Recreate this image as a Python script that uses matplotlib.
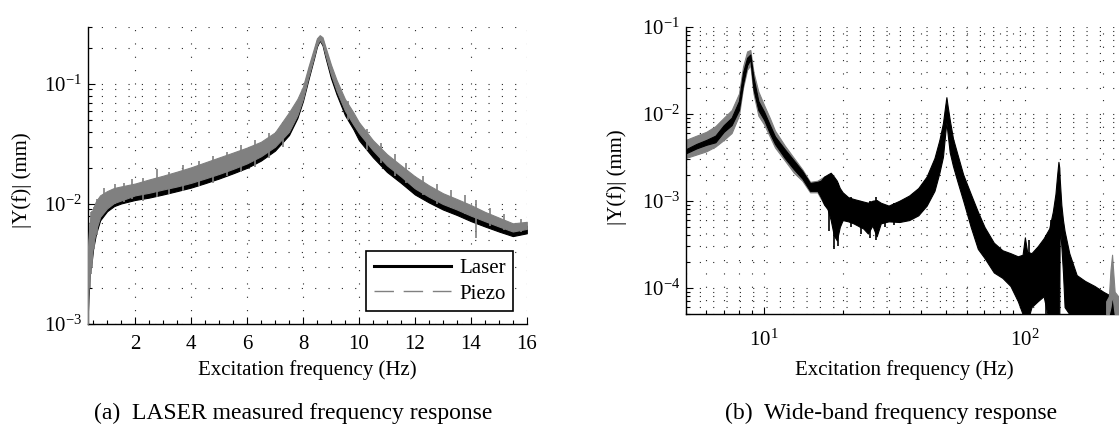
import matplotlib
matplotlib.use('Agg')
import matplotlib.pyplot as plt
from matplotlib.ticker import LogLocator, MultipleLocator, NullFormatter
from matplotlib.lines import Line2D

# (a) low band, LASER vs piezo, noise band read as lower / upper envelope (mm)
freq_a = [0.30, 0.33, 0.36, 0.40, 0.45, 0.50, 0.60, 0.75, 1.0, 1.25, 1.5, 2.0, 2.5, 3.0, 3.5,
          4.0, 4.5, 5.0, 5.5, 6.0, 6.5, 7.0, 7.5, 7.8, 8.0, 8.2, 8.4, 8.5, 8.6, 8.7, 8.8, 9.0,
          9.2, 9.5, 9.8, 10.0, 10.5, 11.0, 11.5, 12.0, 12.5, 13.0, 13.5, 14.0, 14.5, 15.0, 15.5, 16.0]
laser_lo = [0.0010, 0.0016, 0.0022, 0.0028, 0.0033, 0.0042, 0.0056, 0.0073, 0.0087, 0.0096, 0.0101,
            0.0108, 0.0113, 0.0120, 0.0128, 0.0137, 0.0149, 0.0163, 0.0180, 0.0200, 0.0230, 0.0278,
            0.0375, 0.052, 0.072, 0.110, 0.165, 0.205, 0.230, 0.210, 0.168, 0.112, 0.082, 0.055,
            0.042, 0.034, 0.0245, 0.0185, 0.0150, 0.0120, 0.0103, 0.0090, 0.0081, 0.0072, 0.0065,
            0.0059, 0.0054, 0.0057]
laser_hi = [0.0030, 0.0042, 0.0052, 0.0064, 0.0074, 0.0082, 0.0095, 0.0108, 0.0118, 0.0126, 0.0130,
            0.0135, 0.0146, 0.0157, 0.0170, 0.0185, 0.0203, 0.0224, 0.0246, 0.0270, 0.0302, 0.0355,
            0.0510, 0.068, 0.088, 0.132, 0.190, 0.232, 0.248, 0.235, 0.195, 0.135, 0.098, 0.067,
            0.052, 0.043, 0.030, 0.023, 0.0185, 0.0150, 0.0127, 0.0110, 0.0099, 0.0088, 0.0078,
            0.0070, 0.0063, 0.0066]
piezo_lo = [0.0010, 0.0018, 0.0025, 0.0030, 0.0035, 0.0045, 0.0060, 0.0078, 0.0092, 0.0102, 0.0107,
            0.0118, 0.0124, 0.0132, 0.0140, 0.0150, 0.0163, 0.0178, 0.0196, 0.0218, 0.0250, 0.0300,
            0.0400, 0.055, 0.075, 0.115, 0.170, 0.210, 0.235, 0.215, 0.175, 0.120, 0.088, 0.060,
            0.046, 0.039, 0.028, 0.021, 0.017, 0.0135, 0.0115, 0.0100, 0.0090, 0.0080, 0.0072,
            0.0065, 0.0059, 0.0062]
piezo_hi = [0.0035, 0.0050, 0.0062, 0.0075, 0.0085, 0.0092, 0.0105, 0.0118, 0.0128, 0.0136, 0.0140,
            0.0148, 0.0160, 0.0172, 0.0186, 0.0202, 0.0222, 0.0244, 0.0268, 0.0295, 0.0330, 0.0395,
            0.0580, 0.075, 0.095, 0.140, 0.200, 0.240, 0.255, 0.245, 0.205, 0.145, 0.108, 0.075,
            0.058, 0.048, 0.034, 0.026, 0.021, 0.0170, 0.0143, 0.0123, 0.0110, 0.0098, 0.0086,
            0.0077, 0.0069, 0.0071]
# single noisy excursions of the piezo trace
piezo_spk_f = [0.32, 0.38, 0.42, 0.47, 0.55, 0.65, 0.9, 1.3, 1.6, 1.9, 2.3, 2.8, 3.2, 3.7, 4.3,
               4.8, 5.3, 5.8, 6.3, 6.8, 7.3, 9.6, 10.3, 10.8, 11.3, 11.7, 12.3, 12.8, 13.3, 13.8,
               14.2, 14.7, 15.2, 15.8]
piezo_spk_lo = [0.0011, 0.0020, 0.0026, 0.0030, 0.0042, 0.0055, 0.0085, 0.0100, 0.0104, 0.0110,
                0.0105, 0.0115, 0.0120, 0.0128, 0.0140, 0.0150, 0.0170, 0.0185, 0.0205, 0.0240,
                0.0300, 0.050, 0.028, 0.022, 0.017, 0.015, 0.0118, 0.0100, 0.0092, 0.0082,
                0.0052, 0.0066, 0.0061, 0.0058]
piezo_spk_hi = [0.0045, 0.0070, 0.0085, 0.0088, 0.0095, 0.0110, 0.0135, 0.0148, 0.0150, 0.0160,
                0.0165, 0.0195, 0.0185, 0.0210, 0.0230, 0.0250, 0.0270, 0.0310, 0.0340, 0.0390,
                0.0480, 0.072, 0.042, 0.032, 0.026, 0.022, 0.0170, 0.0148, 0.0130, 0.0118,
                0.0108, 0.0092, 0.0082, 0.0075]

# (b) wide band
freq_b = [5.0, 5.5, 6.0, 6.5, 7.0, 7.5, 8.0, 8.3, 8.6, 8.85, 9.1, 9.5, 10, 10.5, 11, 12, 13, 14, 15,
          16, 16.5, 17, 17.5, 18, 18.5, 19, 19.5, 20, 21, 22, 24, 25, 26, 27, 28, 30, 33, 36, 39, 42,
          45, 47, 48.5, 49.5, 50, 50.5, 51.5, 53, 55, 58, 62, 66, 70, 76, 82, 88, 94, 98, 100, 102,
          106, 112, 118, 124, 128, 131, 133, 134.5, 135.5, 136, 138, 140, 142, 148, 158, 170, 185,
          200, 215, 240]
wide_lo = [0.0035, 0.0040, 0.0044, 0.0047, 0.0062, 0.0074, 0.0110, 0.022, 0.036, 0.042, 0.019,
           0.011, 0.0085, 0.0060, 0.0045, 0.0031, 0.0023, 0.0018, 0.0013, 0.0013, 0.0011, 0.0009,
           0.0008, 0.0006, 0.0004, 0.00035, 0.0005, 0.0006, 0.00058, 0.00055, 0.00048, 0.00042,
           0.00052, 0.00039, 0.00055, 0.00058, 0.00057, 0.0006, 0.00068, 0.00088, 0.0013, 0.0021,
           0.0032, 0.0060, 0.0080, 0.0060, 0.0036, 0.0025, 0.0017, 0.0010, 0.0005, 0.00028,
           0.00022, 0.00015, 0.00013, 0.000105, 0.00007, 0.00005, 0.00004, 0.00004, 0.00006,
           0.00007, 0.00008, 0.00004, 0.00004, 0.00004, 0.00004, 0.00004, 0.00004, 0.00055,
           0.0003, 0.00015, 0.00006, 0.00005, 0.00005, 0.00005, 0.00005, 0.00004, 0.00004, 0.00004]
wide_hi = [0.0039, 0.0045, 0.0050, 0.0056, 0.0074, 0.0090, 0.0140, 0.030, 0.044, 0.048, 0.026,
           0.014, 0.0105, 0.0075, 0.0055, 0.0039, 0.0029, 0.0022, 0.0016, 0.00165, 0.0017, 0.0019,
           0.0020, 0.0021, 0.0019, 0.0017, 0.0014, 0.00125, 0.0011, 0.00105, 0.00098, 0.00095,
           0.0010, 0.00102, 0.00095, 0.00088, 0.0010, 0.00115, 0.0014, 0.0019, 0.0031, 0.0050,
           0.0078, 0.0125, 0.0155, 0.0125, 0.0085, 0.0052, 0.0035, 0.0020, 0.0012, 0.00075,
           0.0005, 0.00033, 0.00027, 0.00025, 0.00023, 0.00024, 0.00038, 0.00026, 0.00025,
           0.0003, 0.00037, 0.00048, 0.00075, 0.0012, 0.0020, 0.0028, 0.0024, 0.0018, 0.0009,
           0.0006, 0.00045, 0.00025, 0.00014, 0.00012, 0.000105, 0.00009, 0.00008, 0.00007]
wide_spk_f = [17.8, 18.6, 19.2, 21.5, 23.5, 25.5, 26.8, 29.0, 31.5, 104, 121, 126]
wide_spk_lo = [0.00045, 0.00028, 0.00030, 0.00050, 0.00042, 0.00037, 0.00035, 0.00050, 0.00052,
               0.00004, 0.00004, 0.00004]
wide_spk_hi = [0.0020, 0.0018, 0.0016, 0.0011, 0.00098, 0.0010, 0.0011, 0.0009, 0.00095,
               0.00035, 0.0004, 0.0006]
gray_f = [5.0, 5.5, 6.0, 6.5, 7.0, 7.5, 8.0, 8.3, 8.6, 8.85, 9.1, 9.5, 10, 10.5, 11, 12, 13, 14, 15, 16, 17]
gray_lo = [0.0031, 0.0034, 0.0037, 0.0042, 0.0050, 0.0060, 0.0095, 0.020, 0.032, 0.036, 0.017,
           0.0095, 0.0075, 0.0055, 0.0041, 0.0029, 0.0021, 0.0017, 0.00125, 0.00125, 0.0009]
gray_hi = [0.0050, 0.0056, 0.0062, 0.0072, 0.0090, 0.0110, 0.0170, 0.035, 0.052, 0.054, 0.030,
           0.018, 0.0125, 0.0090, 0.0064, 0.0043, 0.0031, 0.0023, 0.00165, 0.0017, 0.0019]
spike_f = [205, 210, 213, 216, 218, 221, 228, 240]
spike_lo = [0.00005, 0.00005, 0.00006, 0.00008, 0.00007, 0.00005, 0.00005, 0.00005]
spike_hi = [0.00007, 0.00008, 0.00016, 0.00024, 0.00016, 0.00009, 0.00008, 0.00008]

plt.rcParams['font.family'] = ['Liberation Serif', 'DejaVu Serif']
plt.rcParams['font.size'] = 15
plt.rcParams['mathtext.fontset'] = 'custom'
plt.rcParams['mathtext.rm'] = 'Liberation Serif'
plt.rcParams['mathtext.it'] = 'Liberation Serif:italic'
plt.rcParams['mathtext.default'] = 'regular'

W, H = 1119, 425
fig = plt.figure(figsize=(W / 100, H / 100), dpi=100)
ax1 = fig.add_axes([87.5 / W, 1 - 324 / H, 439.3 / W, 297.3 / H])
ax2 = fig.add_axes([685.7 / W, 1 - 314 / H, 438.3 / W, 287.3 / H])

dots = dict(color='0.15', linestyle=(0, (1, 11)), linewidth=0.8)

# ---- (a)
ax1.fill_between(freq_a, laser_lo, laser_hi, color='k', lw=0.8, zorder=2)
ax1.fill_between(freq_a, piezo_lo, piezo_hi, color='0.5', lw=0.8, zorder=3)
ax1.vlines(piezo_spk_f, piezo_spk_lo, piezo_spk_hi, color='0.5', lw=1.2, zorder=3)
ax1.set_yscale('log')
ax1.set_xlim(0.3, 16)
ax1.set_ylim(1e-3, 0.3)
ax1.xaxis.set_major_locator(MultipleLocator(2))
ax1.xaxis.set_minor_locator(MultipleLocator(0.5))
ax1.grid(True, which='major', axis='x', **dots)
ax1.grid(True, which='both', axis='y', **dots)
ax1.set_xlabel('Excitation frequency (Hz)')
ax1.xaxis.set_label_coords(0.5, (324 - 370) / 297.3)
ax1.xaxis.label.set_va('center')
ax1.set_ylabel('|Y(f)| (mm)')
ax1.yaxis.set_label_coords((22 - 87.5) / 439.3, (324 - 180) / 297.3)
ax1.yaxis.label.set_va('center')
handles = [Line2D([], [], color='k', lw=2.2),
           Line2D([], [], color='0.5', lw=1, linestyle=(0, (14, 7)))]
leg = ax1.legend(handles, ['Laser', 'Piezo'], loc='lower right',
                 bbox_to_anchor=(0.9686, 0.0437), borderaxespad=0, fancybox=False,
                 framealpha=1, edgecolor='k', handlelength=3.7, handletextpad=0.4,
                 labelspacing=0.3, borderpad=0.35)
leg.get_frame().set_linewidth(1.2)

# ---- (b)
ax2.fill_between(gray_f, gray_lo, gray_hi, color='0.5', lw=0.8, zorder=2)
ax2.fill_between(freq_b, wide_lo, wide_hi, color='k', lw=0.8, zorder=3)
ax2.vlines(wide_spk_f, wide_spk_lo, wide_spk_hi, color='k', lw=1.2, zorder=3)
ax2.fill_between(spike_f, spike_lo, spike_hi, color='0.5', lw=0.8, zorder=4)
ax2.set_xscale('log')
ax2.set_yscale('log')
ax2.set_xlim(5, 240)
ax2.set_ylim(5e-5, 0.1)
ax2.grid(True, which='both', **dots)
ax2.set_xlabel('Excitation frequency (Hz)')
ax2.xaxis.set_label_coords((904 - 685.7) / 438.3, (314 - 370) / 287.3)
ax2.xaxis.label.set_va('center')
ax2.set_ylabel('|Y(f)| (mm)')
ax2.yaxis.set_label_coords((617 - 685.7) / 438.3, (314 - 177) / 287.3)
ax2.yaxis.label.set_va('center')

for ax in (ax1, ax2):
    ax.yaxis.set_major_locator(LogLocator(base=10))
    ax.yaxis.set_minor_locator(LogLocator(base=10, subs=range(2, 10)))
    ax.yaxis.set_minor_formatter(NullFormatter())
    for s in ('top', 'right'):
        ax.spines[s].set_visible(False)
    for s in ('left', 'bottom'):
        ax.spines[s].set_linewidth(1.0)
    ax.tick_params(which='both', direction='in', top=False, right=False, width=0.8)
    ax.tick_params(which='major', length=5)
    ax.tick_params(which='minor', length=3)
    ax.tick_params(axis='y', pad=4)
    ax.set_axisbelow(True)
ax2.xaxis.set_minor_formatter(NullFormatter())
ax1.tick_params(axis='x', pad=8)
ax2.tick_params(axis='x', pad=11)

fig.text(293 / W, 1 - 413 / H, '(a)  LASER measured frequency response', ha='center', va='center', fontsize=17)
fig.text(891 / W, 1 - 413 / H, '(b)  Wide-band frequency response', ha='center', va='center', fontsize=17)

fig.savefig('out.png', dpi=100)
